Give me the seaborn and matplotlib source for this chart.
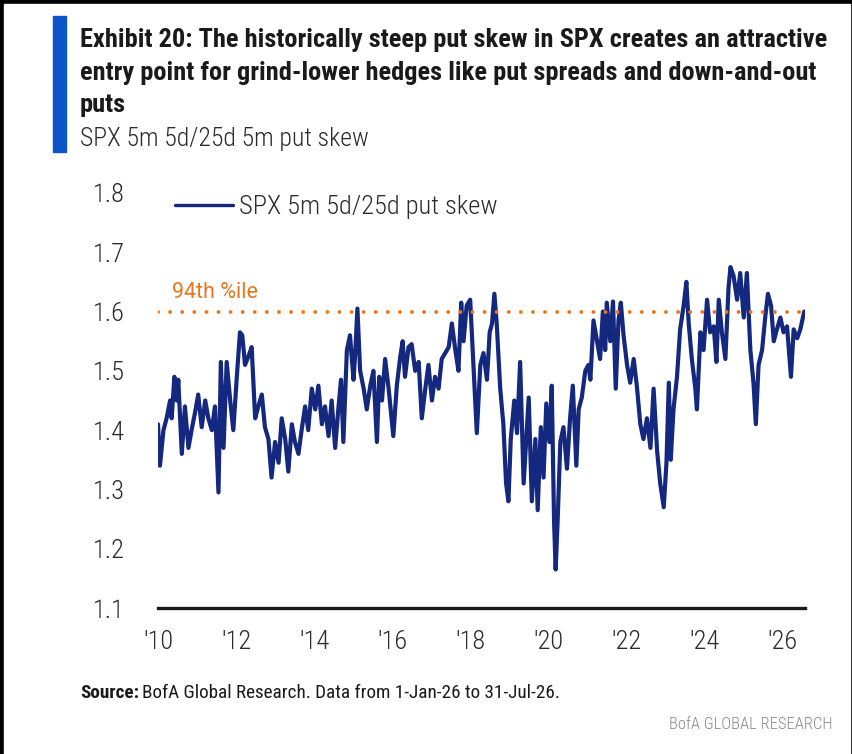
import numpy as np
import pandas as pd
import seaborn as sns
import matplotlib.pyplot as plt
from matplotlib import font_manager
from matplotlib.patches import Rectangle

# Data (decimal year, skew)
years = [
    2010.00, 2010.05, 2010.14, 2010.22, 2010.31, 2010.35, 2010.42, 2010.48, 2010.52, 2010.61,
    2010.69, 2010.78, 2010.86, 2010.95, 2011.03, 2011.12, 2011.21, 2011.29, 2011.38, 2011.46,
    2011.55, 2011.61, 2011.68, 2011.76, 2011.85, 2011.93, 2012.02, 2012.10, 2012.16, 2012.23,
    2012.32, 2012.40, 2012.49, 2012.57, 2012.66, 2012.74, 2012.83, 2012.91, 2013.00, 2013.09,
    2013.17, 2013.26, 2013.34, 2013.43, 2013.51, 2013.60, 2013.68, 2013.77, 2013.85, 2013.94,
    2014.03, 2014.11, 2014.20, 2014.28, 2014.37, 2014.45, 2014.54, 2014.62, 2014.69, 2014.75,
    2014.84, 2014.92, 2015.01, 2015.05, 2015.11, 2015.18, 2015.27, 2015.35, 2015.44, 2015.52,
    2015.61, 2015.67, 2015.74, 2015.82, 2015.91, 2016.03, 2016.12, 2016.21, 2016.27, 2016.33,
    2016.42, 2016.50, 2016.59, 2016.68, 2016.76, 2016.85, 2016.93, 2017.02, 2017.10, 2017.19,
    2017.27, 2017.36, 2017.45, 2017.53, 2017.62, 2017.70, 2017.77, 2017.83, 2017.91, 2018.00,
    2018.09, 2018.17, 2018.26, 2018.34, 2018.43, 2018.50, 2018.56, 2018.62, 2018.68, 2018.77,
    2018.85, 2018.92, 2018.98, 2019.04, 2019.13, 2019.20, 2019.28, 2019.37, 2019.50, 2019.58,
    2019.67, 2019.73, 2019.81, 2019.88, 2019.95, 2020.03, 2020.09, 2020.15, 2020.19, 2020.24,
    2020.31, 2020.39, 2020.48, 2020.56, 2020.63, 2020.72, 2020.78, 2020.86, 2020.95, 2021.03,
    2021.08, 2021.16, 2021.25, 2021.33, 2021.40, 2021.46, 2021.50, 2021.59, 2021.66, 2021.73,
    2021.80, 2021.86, 2021.93, 2022.02, 2022.10, 2022.19, 2022.27, 2022.36, 2022.44, 2022.53,
    2022.62, 2022.70, 2022.79, 2022.87, 2022.96, 2023.03, 2023.09, 2023.14, 2023.21, 2023.30,
    2023.38, 2023.47, 2023.54, 2023.60, 2023.68, 2023.77, 2023.81, 2023.90, 2023.98, 2024.07,
    2024.15, 2024.24, 2024.31, 2024.37, 2024.45, 2024.54, 2024.62, 2024.67, 2024.75, 2024.84,
    2024.92, 2025.01, 2025.09, 2025.18, 2025.26, 2025.32, 2025.39, 2025.48, 2025.56, 2025.63,
    2025.71, 2025.78, 2025.86, 2025.95, 2026.03, 2026.12, 2026.22, 2026.29, 2026.38, 2026.46,
    2026.56,
]
skew = [
    1.41, 1.34, 1.40, 1.42, 1.45, 1.42, 1.49, 1.45, 1.485, 1.36,
    1.44, 1.37, 1.40, 1.43, 1.46, 1.405, 1.45, 1.42, 1.40, 1.44,
    1.295, 1.515, 1.37, 1.515, 1.45, 1.40, 1.49, 1.565, 1.56, 1.51,
    1.525, 1.54, 1.42, 1.44, 1.46, 1.405, 1.385, 1.32, 1.38, 1.345,
    1.42, 1.385, 1.33, 1.41, 1.38, 1.36, 1.40, 1.44, 1.40, 1.47,
    1.435, 1.475, 1.41, 1.44, 1.39, 1.45, 1.37, 1.435, 1.485, 1.38,
    1.535, 1.56, 1.485, 1.525, 1.605, 1.50, 1.47, 1.435, 1.475, 1.50,
    1.38, 1.49, 1.45, 1.52, 1.47, 1.39, 1.475, 1.525, 1.55, 1.49,
    1.54, 1.545, 1.50, 1.515, 1.42, 1.47, 1.51, 1.45, 1.49, 1.47,
    1.52, 1.53, 1.54, 1.58, 1.535, 1.50, 1.615, 1.55, 1.61, 1.62,
    1.50, 1.395, 1.51, 1.53, 1.485, 1.565, 1.58, 1.63, 1.58, 1.47,
    1.41, 1.31, 1.28, 1.385, 1.45, 1.395, 1.515, 1.31, 1.455, 1.28,
    1.385, 1.265, 1.405, 1.32, 1.445, 1.38, 1.475, 1.245, 1.165, 1.245,
    1.38, 1.405, 1.335, 1.42, 1.475, 1.34, 1.435, 1.455, 1.50, 1.51,
    1.485, 1.585, 1.55, 1.52, 1.60, 1.535, 1.615, 1.55, 1.617, 1.47,
    1.585, 1.615, 1.56, 1.51, 1.48, 1.52, 1.475, 1.41, 1.385, 1.42,
    1.37, 1.47, 1.365, 1.31, 1.27, 1.345, 1.48, 1.35, 1.435, 1.49,
    1.57, 1.61, 1.65, 1.58, 1.52, 1.47, 1.435, 1.565, 1.535, 1.62,
    1.565, 1.575, 1.515, 1.62, 1.565, 1.52, 1.64, 1.675, 1.66, 1.62,
    1.665, 1.59, 1.665, 1.535, 1.48, 1.41, 1.51, 1.535, 1.59, 1.63,
    1.61, 1.55, 1.57, 1.59, 1.565, 1.575, 1.49, 1.57, 1.555, 1.57,
    1.60,
]
x_ticks = [2010, 2012, 2014, 2016, 2018, 2020, 2022, 2024, 2026]
x_labels = ["'10", "'12", "'14", "'16", "'18", "'20", "'22", "'24", "'26"]
y_ticks = [1.1, 1.2, 1.3, 1.4, 1.5, 1.6, 1.7, 1.8]
pctile_94 = 1.6

NAVY = "#13287e"
ORANGE = "#e8761f"
BLUE_BAR = "#0b55c8"

sns.set_theme(style="white")

# Fonts: prefer a condensed face if one is installed
names = {f.name for f in font_manager.fontManager.ttflist}
cond = next((n for n in ["Roboto Condensed", "Liberation Sans Narrow",
                         "Open Sans Condensed"] if n in names), "Roboto")
COND = [cond, "DejaVu Sans"]
plt.rcParams["font.family"] = ["Roboto", "DejaVu Sans"]

W, H = 853, 754
fig = plt.figure(figsize=(W / 100, H / 100), dpi=100)
fig.patch.set_facecolor("black")
fig.add_artist(Rectangle((4 / W, 0), (850 - 4) / W, (H - 4) / H,
                         transform=fig.transFigure, color="white", zorder=-10))


def fx(px):
    return px / W


def fy(py):
    return 1 - py / H


# Blue accent bar
fig.add_artist(Rectangle((fx(53), fy(152)), 13 / W, (152 - 16) / H,
                         transform=fig.transFigure, color=BLUE_BAR))

# Title lines
title_lines = [
    "Exhibit 20: The historically steep put skew in SPX creates an attractive",
    "entry point for grind-lower hedges like put spreads and down-and-out",
    "puts",
]
baselines = [47, 80, 112]
fig.canvas.draw()
renderer = fig.canvas.get_renderer()
t0 = fig.text(fx(80), fy(baselines[0]), title_lines[0], family=COND,
              fontweight="bold", fontsize=17, color="#1a1a1a", va="baseline")
width = t0.get_window_extent(renderer).width
size = 17 * 748 / width
t0.set_fontsize(size)
for line, b in zip(title_lines[1:], baselines[1:]):
    fig.text(fx(80), fy(b), line, family=COND, fontweight="bold",
             fontsize=size, color="#1a1a1a", va="baseline")

fig.text(fx(80), fy(146), "SPX 5m 5d/25d 5m put skew", fontsize=18.5, fontweight="light",
         color="#2b2b2b", va="baseline", family=COND)

# Main axes
ax = fig.add_axes([fx(158), fy(608), (805 - 158) / W, (608 - 193) / H])
df = pd.DataFrame({"year": years, "skew": skew})
sns.lineplot(data=df, x="year", y="skew", ax=ax, color=NAVY, linewidth=3.0,
             estimator=None, label="SPX 5m 5d/25d put skew")

ax.axhline(pctile_94, color=ORANGE, linewidth=2.8, linestyle=(0, (0.01, 3.1)),
           dash_capstyle="round")
ax.text(2010.36, 1.632, "94th %ile", color=ORANGE, fontsize=15.5, va="center", ha="left")

ax.set_xlim(2010, 2026.58)
ax.set_ylim(1.1, 1.8)
ax.set_xticks(x_ticks)
ax.set_xticklabels(x_labels)
ax.set_yticks(y_ticks)
ax.set_yticklabels([f"{v:.1f}" for v in y_ticks])
ax.tick_params(axis="both", length=0, labelsize=19, labelcolor="#2b2b2b")
ax.tick_params(axis="x", pad=16)
ax.tick_params(axis="y", pad=24)
for lab in ax.get_xticklabels() + ax.get_yticklabels():
    lab.set_fontweight("light")
    lab.set_family(COND)
ax.set_xlabel("")
ax.set_ylabel("")
for side in ["top", "right", "left"]:
    ax.spines[side].set_visible(False)
ax.spines["bottom"].set_color("#1a1a1a")
ax.spines["bottom"].set_linewidth(2.4)
ax.set_facecolor("white")

leg = ax.legend(loc="upper left", bbox_to_anchor=(0.026, 0.995), frameon=False,
                fontsize=19, handlelength=2.2, handletextpad=0.25,
                borderpad=0, borderaxespad=0)
for t in leg.get_texts():
    t.set_fontweight("light")
    t.set_color("#2b2b2b")
    t.set_family(COND)
for h in leg.get_lines():
    h.set_linewidth(2.4)

# Footer
src = fig.text(fx(80), fy(698), "Source:", fontsize=13.8, fontweight="bold",
               color="#1a1a1a", va="baseline", family=COND)
fig.canvas.draw()
bb = src.get_window_extent(renderer)
fig.text(fx(bb.x1 + 3), fy(698), "BofA Global Research. Data from 1-Jan-26 to 31-Jul-26.",
         fontsize=13.8, color="#1a1a1a", va="baseline", family=COND)
fig.text(fx(833), fy(729), "BofA GLOBAL RESEARCH", fontsize=12, fontweight="light",
         color="#8a8a8a", va="baseline", ha="right", family=COND)

fig.savefig("out.png", dpi=100, facecolor=fig.get_facecolor())
